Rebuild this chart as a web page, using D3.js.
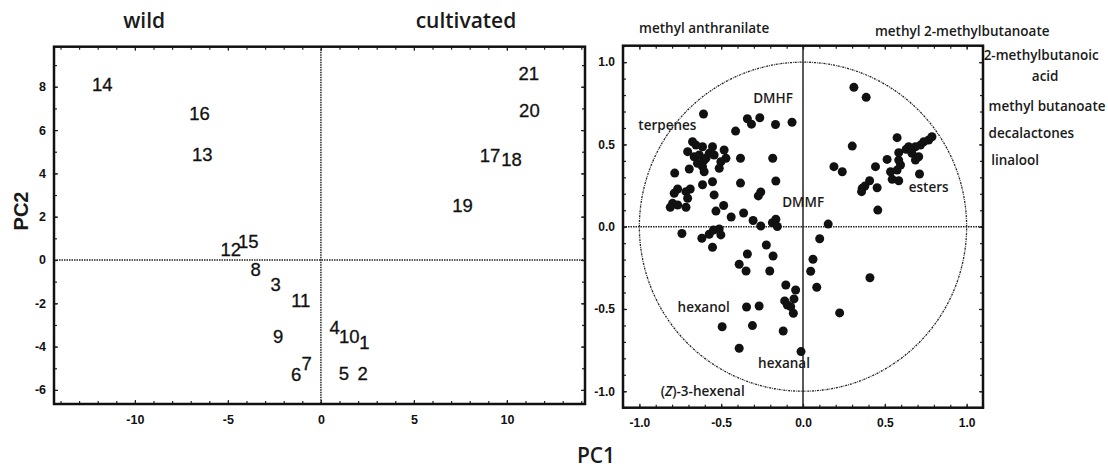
<!DOCTYPE html>
<html><head><meta charset="utf-8">
<script src="https://cdn.jsdelivr.net/npm/d3@7"></script>
<style>
body{margin:0;background:#fff;}
svg{display:block;}
</style></head>
<body>
<svg id="chart" width="1108" height="468"></svg>
<script>
// ---------- DATA ----------
// Score plot (left): sample numbers and PC1/PC2 scores
const scoreLabels = ["1","2","3","4","5","6","7","8","9","10","11","12","13","14","15","16","17","18","19","20","21"];
const scorePC1 = [2.34, 2.25, -2.43, 0.74, 1.24, -1.33, -0.77, -3.51, -2.30, 1.52, -1.08, -4.85, -6.38, -11.75, -3.91, -6.52, 9.09, 10.25, 7.61, 11.21, 11.18];
const scorePC2 = [-3.79, -5.25, -1.11, -3.11, -5.25, -5.28, -4.79, -0.42, -3.51, -3.54, -1.88, 0.50, 4.87, 8.12, 0.84, 6.77, 4.81, 4.66, 2.51, 6.91, 8.62];
const scoreXTicks = [-10, -5, 0, 5, 10];
const scoreYTicks = [-6, -4, -2, 0, 2, 4, 6, 8];
const groupTitles = ["wild", "cultivated"];
const groupTitleX = [-9.5, 7.8];

// Loading plot (right): variable loadings on PC1/PC2
const loadPC1 = [-0.608,-0.412,-0.340,-0.315,-0.264,-0.168,-0.067,
 -0.675,-0.654,-0.705,-0.614,-0.553,-0.482,-0.665,-0.634,-0.604,-0.573,-0.543,-0.471,-0.502,-0.645,-0.614,-0.593,-0.512,-0.695,-0.604,-0.784,
 -0.382,-0.185,-0.553,-0.382,-0.166,-0.614,-0.766,-0.689,-0.787,-0.715,-0.705,-0.543,-0.258,-0.273,-0.797,-0.766,-0.811,-0.715,-0.485,-0.532,
 -0.439,-0.363,-0.305,-0.166,-0.187,-0.258,-0.157,0.154,
 -0.740,-0.618,-0.573,-0.547,-0.512,-0.502,-0.553,-0.224,-0.340,-0.183,-0.390,-0.348,-0.203,-0.105,-0.045,-0.112,-0.055,-0.096,-0.075,-0.059,
 -0.345,-0.268,-0.494,-0.309,-0.121,-0.390,-0.012,
 0.102,0.061,0.047,0.084,0.409,0.224,
 0.311,0.386,0.301,0.189,0.240,0.457,
 0.575,0.788,0.768,0.738,0.718,0.687,0.646,0.630,0.666,0.585,0.707,0.687,0.514,0.585,0.596,0.443,0.575,0.535,0.712,0.545,0.585,0.407,0.378,0.362,0.358,0.453];
const loadPC2 = [0.685,0.581,0.656,0.623,0.662,0.621,0.635,
 0.516,0.496,0.456,0.486,0.486,0.466,0.425,0.436,0.405,0.446,0.436,0.416,0.395,0.385,0.365,0.416,0.355,0.351,0.334,0.326,
 0.416,0.416,0.273,0.265,0.278,0.255,0.229,0.229,0.203,0.213,0.173,0.193,0.211,0.187,0.142,0.132,0.118,0.118,0.129,0.095,
 0.059,0.083,0.038,0.045,0.024,0.004,0.001,0.016,
 -0.041,-0.070,-0.046,-0.020,-0.014,-0.050,-0.125,-0.111,-0.166,-0.178,-0.228,-0.269,-0.269,-0.354,-0.385,-0.451,-0.439,-0.476,-0.486,-0.526,
 -0.488,-0.482,-0.608,-0.601,-0.634,-0.739,-0.759,
 -0.073,-0.198,-0.271,-0.368,-0.310,-0.524,
 0.847,0.786,0.490,0.365,0.334,0.101,
 0.541,0.547,0.527,0.516,0.496,0.486,0.486,0.470,0.446,0.450,0.425,0.405,0.409,0.405,0.375,0.365,0.344,0.334,0.320,0.288,0.279,0.279,0.247,0.233,0.213,0.237];
const loadTicks = [-1.0, -0.5, 0.0, 0.5, 1.0];

// Compound annotations (text, PC1, PC2, anchor)
const annoText = ["methyl anthranilate","methyl 2-methylbutanoate","2-methylbutanoic","acid","methyl butanoate","decalactones","linalool",
                  "DMHF","terpenes","DMMF","esters","hexanol","hexanal"];
const annoPC1 = [-0.604, 0.973, 1.104, 1.48, 1.134, 1.134, 1.15, -0.183, -0.829, 0.001, 0.768, -0.607, -0.116];
const annoPC2 = [1.177, 1.159, 1.013, 0.885, 0.703, 0.539, 0.375, 0.752, 0.59, 0.12, 0.213, -0.518, -0.858];
const annoAnchor = ["middle","middle","start","middle","start","start","start","middle","middle","middle","middle","middle","middle"];

// ---------- DRAW ----------
const svg = d3.select("#chart");
const loc = d3.formatLocale({decimal:".", thousands:",", grouping:[3], currency:["",""], minus:"-"});
const fInt = loc.format("d"), f1 = loc.format(".1f");
const tickFont = "'Liberation Sans', Arial, sans-serif";
const labFont = "'Open Sans', 'Noto Sans', sans-serif";

function frameAxes(g, x, y, xMaj, yMaj, xMin, yMin, fmt, fs) {
  const [x0, x1] = x.range(), [y0, y1] = y.range();
  g.append("g").attr("transform", `translate(0,${y0})`).call(d3.axisBottom(x).tickValues(xMin).tickSize(-3).tickFormat(""));
  g.append("g").attr("transform", `translate(0,${y1})`).call(d3.axisTop(x).tickValues(xMin).tickSize(-3).tickFormat(""));
  g.append("g").attr("transform", `translate(${x0},0)`).call(d3.axisLeft(y).tickValues(yMin).tickSize(-3).tickFormat(""));
  g.append("g").attr("transform", `translate(${x1},0)`).call(d3.axisRight(y).tickValues(yMin).tickSize(-3).tickFormat(""));
  g.append("g").attr("transform", `translate(0,${y1})`).call(d3.axisTop(x).tickValues(xMaj).tickSize(-4).tickFormat(""));
  g.append("g").attr("transform", `translate(${x1},0)`).call(d3.axisRight(y).tickValues(yMaj).tickSize(-4).tickFormat(""));
  const ax = g.append("g").attr("transform", `translate(0,${y0})`)
    .call(d3.axisBottom(x).tickValues(xMaj).tickSize(-4).tickPadding(11).tickFormat(fmt));
  const ay = g.append("g").attr("transform", `translate(${x0},0)`)
    .call(d3.axisLeft(y).tickValues(yMaj).tickSize(-4).tickPadding(8).tickFormat(fmt));
  [ax, ay].forEach(a => {
    a.selectAll("text").attr("font-family", tickFont).attr("font-weight", "bold").attr("font-size", fs).attr("fill", "#111");
  });
  g.selectAll(".domain").remove();
  g.selectAll(".tick line").attr("stroke", "#222").attr("stroke-width", 1.2);
  g.append("rect").attr("x", x0).attr("y", y1).attr("width", x1 - x0).attr("height", y0 - y1)
    .attr("fill", "none").attr("stroke", "#111").attr("stroke-width", 2.5);
}

// ----- Left: score plot -----
const xS = d3.scaleLinear().domain([-14.35, 14.2]).range([54, 585]);
const yS = d3.scaleLinear().domain([-6.65, 9.85]).range([404, 46.7]);
const gL = svg.append("g");
gL.append("line").attr("x1", xS(0)).attr("x2", xS(0)).attr("y1", yS.range()[1]).attr("y2", yS.range()[0])
  .attr("stroke", "#222").attr("stroke-width", 1.5).attr("stroke-dasharray", "1.5,1");
gL.append("line").attr("x1", xS.range()[0]).attr("x2", xS.range()[1]).attr("y1", yS(0)).attr("y2", yS(0))
  .attr("stroke", "#222").attr("stroke-width", 1.5).attr("stroke-dasharray", "1.5,1");
frameAxes(gL, xS, yS, scoreXTicks, scoreYTicks, d3.range(-14, 15, 1), d3.range(-6, 10, 1), fInt, 12.5);
gL.selectAll("text.score").data(scoreLabels).join("text").attr("class", "score")
  .attr("x", (d, i) => xS(scorePC1[i])).attr("y", (d, i) => yS(scorePC2[i]))
  .attr("dy", "0.36em").attr("text-anchor", "middle")
  .attr("font-family", tickFont).attr("font-size", 18.5).attr("fill", "#111")
  .attr("stroke", "#111").attr("stroke-width", 0.3).text(d => d);
gL.selectAll("text.grp").data(groupTitles).join("text").attr("class", "grp")
  .attr("x", (d, i) => xS(groupTitleX[i])).attr("y", 28).attr("text-anchor", "middle")
  .attr("font-family", labFont).attr("font-weight", 600).attr("font-size", 21).attr("fill", "#1a1a1a").text(d => d);
gL.append("text").attr("transform", "translate(28,211) rotate(-90)").attr("text-anchor", "middle")
  .attr("font-family", tickFont).attr("font-weight", "bold").attr("font-size", 20).attr("fill", "#1a1a1a").text("PC2");

// ----- Right: loading plot -----
const xR = d3.scaleLinear().domain([-1.1, 1.1]).range([623, 983]);
const yR = d3.scaleLinear().domain([-1.1, 1.1]).range([407.7, 45.7]);
const gR = svg.append("g");
const circ = d3.range(0, 361, 1).map(a => [Math.cos(a * Math.PI / 180), Math.sin(a * Math.PI / 180)]);
gR.append("path").datum(circ).attr("d", d3.line().x(d => xR(d[0])).y(d => yR(d[1])))
  .attr("fill", "none").attr("stroke", "#222").attr("stroke-width", 1.3).attr("stroke-dasharray", "2,1,0.8,1");
gR.append("line").attr("x1", xR(0)).attr("x2", xR(0)).attr("y1", yR.range()[1]).attr("y2", yR.range()[0])
  .attr("stroke", "#222").attr("stroke-width", 1.5);
gR.append("line").attr("x1", xR.range()[0]).attr("x2", xR.range()[1]).attr("y1", yR(0)).attr("y2", yR(0))
  .attr("stroke", "#222").attr("stroke-width", 1.5).attr("stroke-dasharray", "1.5,1");
frameAxes(gR, xR, yR, loadTicks, loadTicks, d3.range(-11, 12, 1).map(v => v / 10), d3.range(-11, 12, 1).map(v => v / 10), f1, 12);
gR.selectAll("circle.ld").data(loadPC1).join("circle").attr("class", "ld")
  .attr("cx", (d, i) => xR(loadPC1[i])).attr("cy", (d, i) => yR(loadPC2[i])).attr("r", 4.5).attr("fill", "#111");
gR.selectAll("text.anno").data(annoText).join("text").attr("class", "anno")
  .attr("x", (d, i) => xR(annoPC1[i])).attr("y", (d, i) => yR(annoPC2[i])).attr("text-anchor", (d, i) => annoAnchor[i])
  .attr("font-family", labFont).attr("font-weight", 600).attr("font-size", 13.5).attr("fill", "#1a1a1a").text(d => d);
const zt = gR.append("text").attr("x", xR(-0.613)).attr("y", yR(-1.029)).attr("text-anchor", "middle")
  .attr("font-family", labFont).attr("font-weight", 600).attr("font-size", 13.5).attr("fill", "#1a1a1a");
zt.append("tspan").text("(");
zt.append("tspan").attr("font-style", "italic").text("Z");
zt.append("tspan").text(")-3-hexenal");

svg.append("text").attr("x", 596).attr("y", 463).attr("text-anchor", "middle")
  .attr("font-family", labFont).attr("font-weight", 600).attr("font-size", 21).attr("fill", "#1a1a1a").text("PC1");
</script>
</body></html>
